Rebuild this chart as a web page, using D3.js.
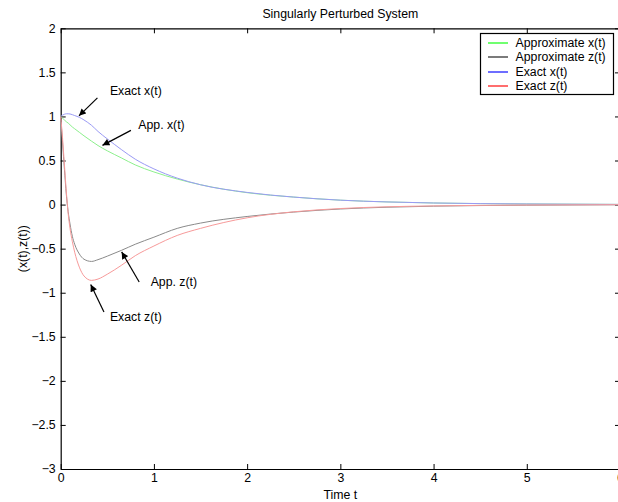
<!DOCTYPE html>
<html>
<head>
<meta charset="utf-8">
<script src="https://cdn.jsdelivr.net/npm/d3@7"></script>
<style>
  body { margin: 0; background: #fff; }
  svg { display: block; font-family: "Liberation Sans", Arial, Helvetica, sans-serif; }
  .tick-label { font-size: 12.3px; fill: #000; }
</style>
</head>
<body>
<div id="chart"></div>
<script>
// Time samples (t) and curve values
const tApprox = [0, 0.02, 0.04, 0.06, 0.08, 0.1, 0.125, 0.15, 0.2, 0.25, 0.33, 0.4, 0.5, 0.65, 0.8, 1.0, 1.25, 1.5, 2, 2.5, 3, 3.5, 4, 5, 6];

const approxX = [1.0, 0.98, 0.96, 0.94, 0.925, 0.905, 0.88, 0.86, 0.82, 0.78, 0.72, 0.67, 0.61, 0.53, 0.45, 0.37, 0.29, 0.225, 0.135, 0.085, 0.05, 0.03, 0.018, 0.007, 0.002];
const approxZ = [1.0, 0.7, 0.4, 0.12, -0.08, -0.22, -0.36, -0.45, -0.56, -0.62, -0.645, -0.625, -0.585, -0.52, -0.45, -0.37, -0.27, -0.21, -0.135, -0.085, -0.05, -0.03, -0.018, -0.007, -0.002];
const exactX  = [1.0, 1.015, 1.025, 1.03, 1.03, 1.028, 1.02, 1.01, 0.99, 0.96, 0.9, 0.83, 0.745, 0.625, 0.515, 0.405, 0.30, 0.225, 0.138, 0.085, 0.05, 0.03, 0.018, 0.007, 0.002];
const exactZ  = [1.0, 0.75, 0.45, 0.15, -0.1, -0.27, -0.42, -0.54, -0.71, -0.81, -0.86, -0.845, -0.79, -0.69, -0.58, -0.47, -0.35, -0.27, -0.15, -0.082, -0.045, -0.025, -0.015, -0.005, -0.001];

const seriesNames = ['Approximate x(t)', 'Approximate z(t)', 'Exact x(t)', 'Exact z(t)'];
const seriesValues = [approxX, approxZ, exactX, exactZ];
// thin plotted line colour vs legend swatch colour
const lineColors = ['#8cf08c', '#8a8a8a', '#9a9af5', '#f79a9a'];
const legendColors = ['#22ff22', '#333333', '#2020ff', '#ff2020'];

const xTicks = [0, 1, 2, 3, 4, 5, 6];
const yTicks = [-3, -2.5, -2, -1.5, -1, -0.5, 0, 0.5, 1, 1.5, 2];

// Arrow annotations, in data units: text anchor, arrow tail, arrow tip
const notes = [
  { label: 'Exact x(t)', text: [0.528, 1.245], from: [0.394, 1.211], to: [0.196, 1.007] },
  { label: 'App. x(t)',  text: [0.832, 0.854], from: [0.753, 0.842], to: [0.448, 0.672] },
  { label: 'App. z(t)',  text: [0.965, -0.926], from: [0.842, -0.878], to: [0.654, -0.537] },
  { label: 'Exact z(t)', text: [0.528, -1.323], from: [0.464, -1.218], to: [0.322, -0.907] }
];

const width = 618, height = 502;
const margin = { top: 28.3, left: 60.7, right: -2, bottom: 33 };
const plotW = width - margin.left - margin.right;
const plotH = height - margin.top - margin.bottom;
const fontSize = 12.3;

const xScale = d3.scaleLinear().domain([0, 6]).range([0, plotW]);
const yScale = d3.scaleLinear().domain([-3, 2]).range([plotH, 0]);

const svg = d3.select('#chart').append('svg')
  .attr('width', width)
  .attr('height', height);

svg.append('defs').append('marker')
  .attr('id', 'head')
  .attr('viewBox', '0 0 10 10')
  .attr('refX', 10).attr('refY', 5)
  .attr('markerWidth', 8).attr('markerHeight', 7)
  .attr('markerUnits', 'userSpaceOnUse')
  .attr('orient', 'auto')
  .append('path')
  .attr('d', 'M0,0 L10,5 L0,10 z')
  .attr('fill', '#000');

const body = svg.append('g')
  .attr('transform', `translate(${margin.left}, ${margin.top})`);

// Axes: MATLAB style box with inward ticks
const fmt = d3.format('');
body.append('g')
  .attr('transform', `translate(0, ${plotH})`)
  .call(d3.axisBottom(xScale).tickValues(xTicks).tickSizeInner(-5).tickSizeOuter(0).tickPadding(4).tickFormat(fmt))
  .call(g => g.selectAll('text').attr('class', 'tick-label').attr('font-family', null).attr('font-size', null));
body.append('g')
  .call(d3.axisTop(xScale).tickValues(xTicks).tickSizeInner(-5).tickSizeOuter(0).tickFormat(''));
body.append('g')
  .call(d3.axisLeft(yScale).tickValues(yTicks).tickSizeInner(-5).tickSizeOuter(0).tickPadding(5).tickFormat(fmt))
  .call(g => g.selectAll('text').attr('class', 'tick-label').attr('font-family', null).attr('font-size', null));
body.append('g')
  .attr('transform', `translate(${plotW}, 0)`)
  .call(d3.axisRight(yScale).tickValues(yTicks).tickSizeInner(-5).tickSizeOuter(0).tickFormat(''));
body.selectAll('.domain').attr('stroke', '#000').attr('stroke-width', 1.2);

// Curves
const line = d3.line()
  .x((d, i) => xScale(tApprox[i]))
  .y(d => yScale(d))
  .curve(d3.curveMonotoneX);

body.selectAll('path.curve')
  .data(seriesValues)
  .enter()
  .append('path')
  .attr('class', 'curve')
  .attr('d', d => line(d))
  .attr('fill', 'none')
  .attr('stroke', (d, i) => lineColors[i])
  .attr('stroke-width', 1);

// Annotations
const noteG = body.selectAll('g.note')
  .data(notes)
  .enter()
  .append('g')
  .attr('class', 'note');
noteG.append('line')
  .attr('x1', d => xScale(d.from[0])).attr('y1', d => yScale(d.from[1]))
  .attr('x2', d => xScale(d.to[0])).attr('y2', d => yScale(d.to[1]))
  .attr('stroke', '#000').attr('stroke-width', 1.2)
  .attr('marker-end', 'url(#head)');
noteG.append('text')
  .attr('x', d => xScale(d.text[0]))
  .attr('y', d => yScale(d.text[1]))
  .attr('font-size', fontSize)
  .text(d => d.label);

// Legend
const legend = svg.append('g').attr('transform', 'translate(480.5, 33.5)');
legend.append('rect')
  .attr('width', 133).attr('height', 61)
  .attr('fill', '#fff').attr('stroke', '#000').attr('stroke-width', 1.2);
const items = legend.selectAll('g.item')
  .data(seriesNames)
  .enter()
  .append('g')
  .attr('class', 'item')
  .attr('transform', (d, i) => `translate(0, ${9.5 + Math.round(i * 14.4)})`);
items.append('line')
  .attr('x1', 7.5).attr('x2', 27.5)
  .attr('stroke', (d, i) => legendColors[i]).attr('stroke-width', 1.3);
items.append('text')
  .attr('x', 35).attr('y', 4.3)
  .attr('font-size', fontSize)
  .text(d => d);

// Titles
svg.append('text')
  .attr('x', margin.left + plotW / 2).attr('y', 18)
  .attr('text-anchor', 'middle').attr('font-size', fontSize)
  .text('Singularly Perturbed System');
svg.append('text')
  .attr('x', margin.left + plotW / 2).attr('y', 499)
  .attr('text-anchor', 'middle').attr('font-size', fontSize)
  .text('Time t');
svg.append('text')
  .attr('transform', `translate(26.5, ${margin.top + plotH / 2}) rotate(-90)`)
  .attr('text-anchor', 'middle').attr('font-size', fontSize)
  .text('(x(t),z(t))');
</script>
</body>
</html>
